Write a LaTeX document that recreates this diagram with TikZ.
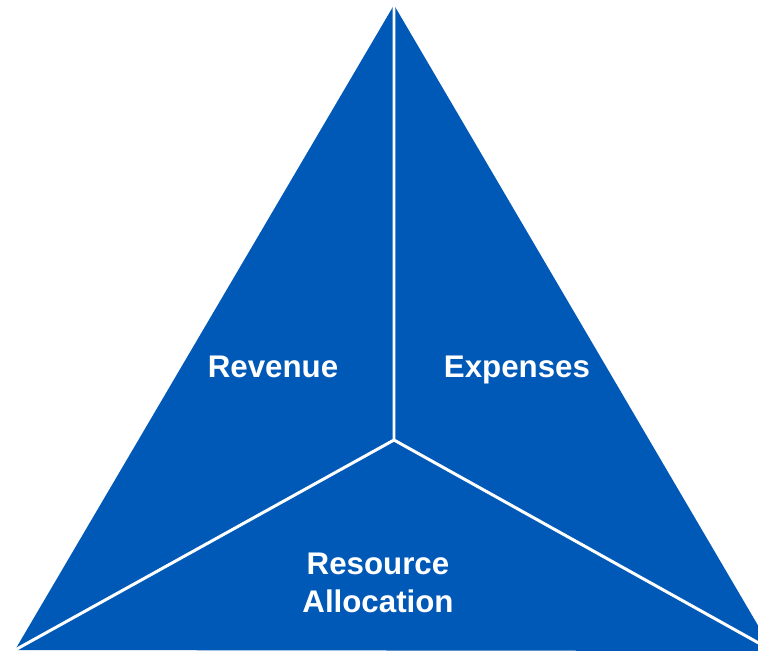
\documentclass[tikz,border=0pt]{standalone}
\usepackage{fontspec}
\setmainfont{Liberation Sans}
\usetikzlibrary{positioning}

\definecolor{piblue}{RGB}{0,89,183}
\tikzset{
	part/.style={font=\bfseries\fontsize{17.8}{22}\selectfont, text=white, align=center, inner sep=0pt},
	split/.style={draw=white, line width=1.7pt}
}

\begin{document}
\begin{tikzpicture}[x=0.02cm, y=-0.02cm]
	\useasboundingbox (0,0) rectangle (758,650);
	\clip (0,0) rectangle (758,650);
	\coordinate (top) at (394,5);
	\coordinate (bl) at (15,650);
	\coordinate (br) at (773,651);
	\coordinate (mid) at (394,440);
	\fill [piblue] (top) -- (bl) -- (br) -- cycle;
	\draw [split] (mid) -- (top) (mid) -- (bl) (mid) -- (br);
	\node [part, anchor=base] (rev) at (273,377) {Revenue};
	\node [part, anchor=base] (exp) at (517,377) {Expenses};
	\node [part] (res) at (378,583) {Resource\\Allocation};
\end{tikzpicture}
\end{document}
